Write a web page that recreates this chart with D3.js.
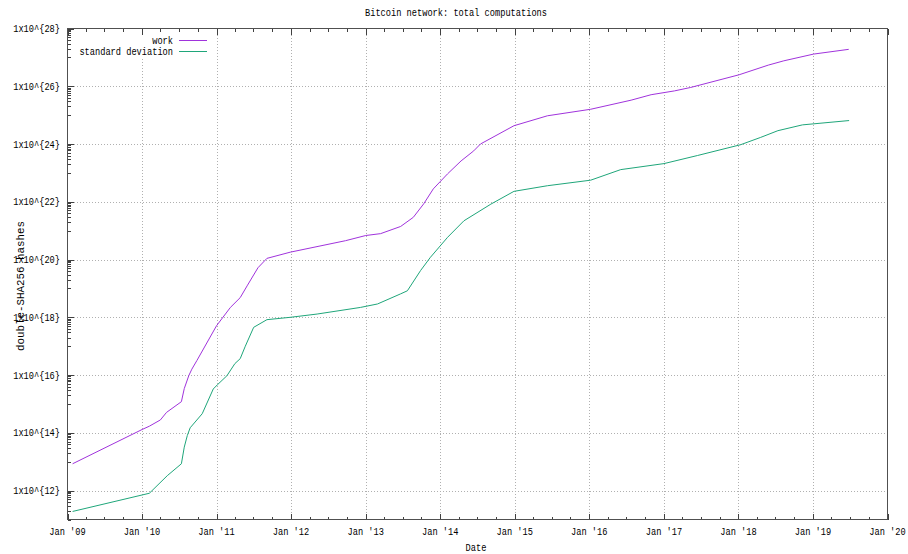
<!DOCTYPE html>
<html>
<head>
<meta charset="utf-8">
<script src="https://cdn.jsdelivr.net/npm/d3@7"></script>
<style>
  body { margin: 0; background: #fff; }
  text { font-family: "Liberation Mono", "DejaVu Sans Mono", monospace; font-size: 10px; fill: #000; }
</style>
</head>
<body>
<svg id="chart" width="908" height="554"></svg>
<script>
// series
const workDates = ["2009-01-26", "2010-01-01", "2010-02-06", "2010-04-01", "2010-05-01", "2010-07-13",
  "2010-07-27", "2010-08-18", "2010-09-02", "2010-09-27", "2011-01-01", "2011-03-10", "2011-04-27",
  "2011-06-02", "2011-07-23", "2011-09-05", "2011-12-28", "2012-09-24", "2013-01-01", "2013-03-15",
  "2013-06-21", "2013-08-22", "2013-10-12", "2013-11-28", "2014-02-06", "2014-04-13", "2014-06-14",
  "2014-07-17", "2014-12-28", "2015-06-10", "2016-01-08", "2016-07-24", "2016-10-30", "2017-02-21",
  "2017-05-12", "2018-01-04", "2018-05-27", "2018-08-11", "2019-01-04", "2019-06-25"];
const workValues = [8.5e12, 1.3e14, 1.7e14, 2.8e14, 5.1e14, 1.2e15,
  3.4e15, 9.5e15, 1.6e16, 3.2e16, 5.1e17, 2.2e18, 4.8e18,
  1.3e19, 5.2e19, 1.1e20, 1.8e20, 4.5e20, 6.8e20, 7.9e20,
  1.4e21, 2.9e21, 8.5e21, 2.8e22, 9.3e22, 2.6e23, 5.8e23,
  1.0e24, 4.3e24, 9.5e24, 1.6e25, 3.3e25, 5.1e25, 6.9e25,
  9.1e25, 2.5e26, 5.4e26, 7.6e26, 1.3e27, 1.9e27];

const sigmaDates = ["2009-01-26", "2010-02-06", "2010-05-05", "2010-07-13", "2010-07-27", "2010-08-11",
  "2010-08-25", "2010-10-23", "2010-12-16", "2011-01-05", "2011-02-21", "2011-04-01", "2011-04-27",
  "2011-05-22", "2011-07-02", "2011-09-05", "2011-12-28", "2012-05-08", "2012-12-06", "2013-02-28",
  "2013-06-21", "2013-07-24", "2013-09-27", "2013-11-14", "2014-02-06", "2014-04-27", "2014-09-06",
  "2014-12-28", "2015-06-10", "2016-01-08", "2016-06-03", "2017-01-01", "2017-06-14", "2018-01-12",
  "2018-04-20", "2018-07-13", "2018-11-10", "2019-06-27"];
const sigmaValues = [1.9e11, 8.1e11, 3.3e12, 8.5e12, 3.2e13, 8.1e13,
  1.5e14, 4.6e14, 3.3e15, 4.6e15, 9.5e15, 2.5e16, 3.7e16,
  1.0e17, 4.5e17, 8.3e17, 1.0e18, 1.3e18, 2.2e18, 2.9e18,
  6.5e18, 8.3e18, 4.2e19, 1.2e20, 5.9e20, 2.2e21, 8.3e21,
  2.3e22, 3.6e22, 5.6e22, 1.3e23, 2.1e23, 4.0e23, 9.5e23,
  1.7e24, 2.9e24, 4.6e24, 6.5e24];

const seriesNames = ["work", "standard deviation"];
const seriesColors = ["#a033dc", "#1fa67a"];

const yTickExps = [12, 14, 16, 18, 20, 22, 24, 26, 28];
const yTickLabels = yTickExps.map(e => `1x10^{${e}}`);
const xTickLabels = ["Jan '09", "Jan '10", "Jan '11", "Jan '12", "Jan '13", "Jan '14", "Jan '15",
  "Jan '16", "Jan '17", "Jan '18", "Jan '19", "Jan '20"];

const charW = 5.2;
const svg = d3.select("#chart");
const plotL = 67.5, plotR = 887.5, plotT = 28.5, plotB = 519.5;

const parse = d3.utcParse("%Y-%m-%d");
const x = d3.scaleUtc()
  .domain([parse("2009-01-01"), parse("2020-01-01")])
  .range([plotL, plotR]);
const y = d3.scaleLog().domain([1e11, 1e28]).range([plotB, plotT]);

function label(sel, s, w = charW) {
  return sel.text(s).attr("textLength", s.length * w).attr("lengthAdjust", "spacingAndGlyphs");
}

// grid
const majorX = d3.utcYear.range(parse("2009-01-01"), parse("2020-01-02"));
const majorY = yTickExps.map(e => Math.pow(10, e));
const grid = svg.append("g").attr("stroke", "#b0b0b0").attr("stroke-dasharray", "1,2").attr("shape-rendering", "crispEdges");
grid.selectAll("line.gx").data(majorX.slice(1, -1)).join("line")
  .attr("x1", d => Math.round(x(d)) + 0.5).attr("x2", d => Math.round(x(d)) + 0.5)
  .attr("y1", plotT).attr("y2", plotB);
grid.selectAll("line.gy").data(majorY.slice(0, -1)).join("line")
  .attr("y1", d => Math.round(y(d)) + 0.5).attr("y2", d => Math.round(y(d)) + 0.5)
  .attr("x1", plotL).attr("x2", plotR);

// curves
const line = d3.line().x(d => x(d[0])).y(d => y(d[1]));
const workPts = workDates.map((d, i) => [parse(d), workValues[i]]);
const sigmaPts = sigmaDates.map((d, i) => [parse(d), sigmaValues[i]]);
[workPts, sigmaPts].forEach((pts, i) => {
  svg.append("path").datum(pts)
    .attr("fill", "none").attr("stroke", seriesColors[i]).attr("stroke-width", 1)
    .attr("d", line);
});

// legend (opaque box)
svg.append("rect").attr("x", plotL + 1).attr("y", plotT + 1).attr("width", 142).attr("height", 29).attr("fill", "#fff");
seriesNames.forEach((name, i) => {
  const ly = 40.5 + i * 11;
  label(svg.append("text").attr("x", 173).attr("y", ly).attr("dy", "0.35em").attr("text-anchor", "end"), name);
  svg.append("line").attr("x1", 179).attr("x2", 207).attr("y1", ly).attr("y2", ly)
    .attr("stroke", seriesColors[i]).attr("stroke-width", 1);
});

// ticks
const axes = svg.append("g").attr("stroke", "#404040").attr("shape-rendering", "crispEdges");
const minorX = d3.utcMonth.every(3).range(parse("2009-01-01"), parse("2020-01-01")).filter(d => d.getUTCMonth() !== 0);
majorX.forEach(d => {
  const px = Math.round(x(d)) + 0.5;
  axes.append("line").attr("x1", px).attr("x2", px).attr("y1", plotB).attr("y2", plotB - 6);
  axes.append("line").attr("x1", px).attr("x2", px).attr("y1", plotT).attr("y2", plotT + 6);
});
minorX.forEach(d => {
  const px = Math.round(x(d)) + 0.5;
  axes.append("line").attr("x1", px).attr("x2", px).attr("y1", plotB).attr("y2", plotB - 3);
  axes.append("line").attr("x1", px).attr("x2", px).attr("y1", plotT).attr("y2", plotT + 3);
});
majorY.forEach(v => {
  const py = Math.round(y(v)) + 0.5;
  axes.append("line").attr("x1", plotL).attr("x2", plotL + 6).attr("y1", py).attr("y2", py);
});
d3.range(11, 28, 2).forEach(e => {
  d3.range(1, 10).forEach(k => {
    const py = Math.round(y(k * Math.pow(10, e))) + 0.5;
    axes.append("line").attr("x1", plotL).attr("x2", plotL + 3).attr("y1", py).attr("y2", py);
  });
});

// border
svg.append("rect").attr("x", plotL).attr("y", plotT).attr("width", plotR - plotL).attr("height", plotB - plotT)
  .attr("fill", "none").attr("stroke", "#505050").attr("shape-rendering", "crispEdges");

// tick labels
majorY.forEach((v, i) => {
  label(svg.append("text").attr("x", 60).attr("y", y(v)).attr("dy", "0.35em").attr("text-anchor", "end"), yTickLabels[i]);
});
majorX.forEach((d, i) => {
  label(svg.append("text").attr("x", x(d)).attr("y", 531).attr("dy", "0.35em").attr("text-anchor", "middle"), xTickLabels[i]);
});

// titles
label(svg.append("text").attr("x", 456).attr("y", 12).attr("dy", "0.35em").attr("text-anchor", "middle"),
  "Bitcoin network: total computations");
label(svg.append("text").attr("x", 476).attr("y", 547).attr("dy", "0.35em").attr("text-anchor", "middle"), "Date");
label(svg.append("text").attr("transform", "translate(20,286) rotate(-90)").attr("dy", "0.35em").attr("text-anchor", "middle")
  .style("font-size", "11px"), "double-SHA256 hashes", 6.5);
</script>
</body>
</html>
